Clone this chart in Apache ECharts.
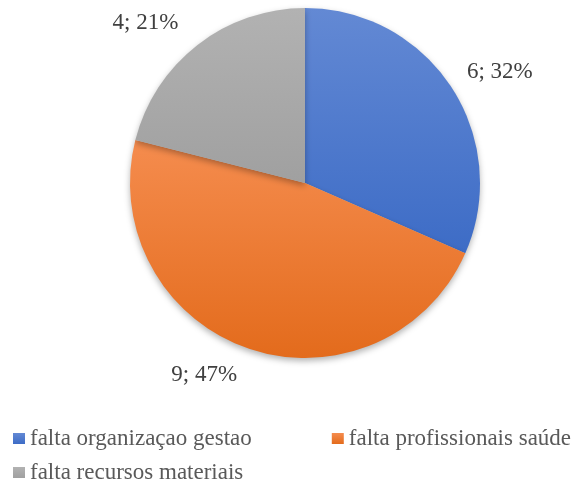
<!DOCTYPE html>
<html>
<head>
<meta charset="utf-8">
<script src="https://cdn.jsdelivr.net/npm/echarts@6/dist/echarts.min.js"></script>
<style>
  html, body { margin: 0; padding: 0; background: #fff; }
  #chart { width: 585px; height: 485px; }
</style>
</head>
<body>
<div id="chart"></div>
<script>
const categories = ["falta organizaçao gestao", "falta profissionais saúde", "falta recursos materiais"];
const values = [6, 9, 4];
// top / bottom colour of each slice gradient
const colorTop = ["#6389d4", "#f58c4e", "#b2b2b2"];
const colorBottom = ["#3d6cc6", "#e36b1c", "#a0a0a0"];

const fontFamily = '"Liberation Serif", "Times New Roman", serif';

const chart = echarts.init(document.getElementById("chart"));

const legendText = { fontFamily: fontFamily, fontSize: 23, color: "#595959" };

chart.setOption({
  backgroundColor: "#fff",
  animation: false,
  legend: [
    {
      data: categories.slice(0, 2),
      left: 8,
      top: 422,
      icon: "rect",
      itemWidth: 12,
      itemHeight: 11,
      itemGap: 80,
      textStyle: legendText
    },
    {
      data: categories.slice(2),
      left: 8,
      top: 456,
      icon: "rect",
      itemWidth: 12,
      itemHeight: 11,
      textStyle: legendText
    }
  ],
  series: [
    {
      type: "pie",
      center: [305, 183],
      radius: 175,
      startAngle: 90,
      clockwise: true,
      label: {
        show: true,
        position: "outside",
        formatter: (p) => p.value + "; " + Math.round(p.percent) + "%",
        fontFamily: fontFamily,
        fontSize: 23,
        color: "#404040",
        distanceToLabelLine: 2
      },
      labelLine: { show: false, length: 28, length2: 0 },
      itemStyle: {
        shadowBlur: 6,
        shadowOffsetY: 3,
        shadowColor: "rgba(0,0,0,0.3)"
      },
      emphasis: { disabled: true },
      data: categories.map((name, i) => ({
        name: name,
        value: values[i],
        label: i === 0 ? { distanceToLabelLine: -8 } : {},
        itemStyle: {
          color: new echarts.graphic.LinearGradient(0, 0, 0, 1, [
            { offset: 0, color: colorTop[i] },
            { offset: 1, color: colorBottom[i] }
          ])
        }
      }))
    }
  ]
});
</script>
</body>
</html>
